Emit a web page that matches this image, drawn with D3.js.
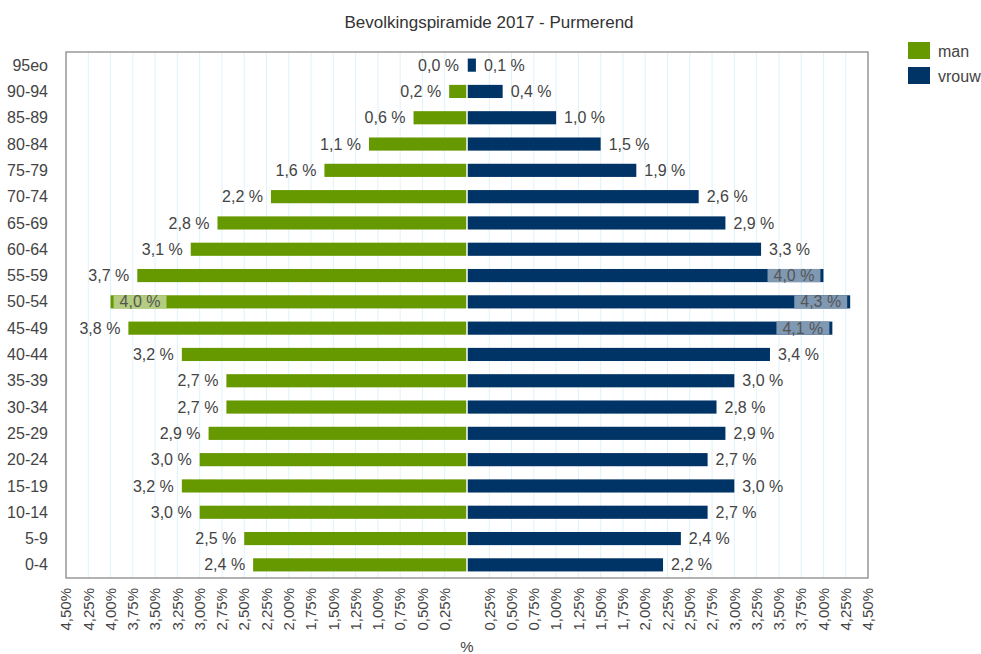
<!DOCTYPE html>
<html>
<head>
<meta charset="utf-8">
<script src="https://cdn.jsdelivr.net/npm/d3@7/dist/d3.min.js"></script>
<style>
	body { margin: 0; background: #fff; }
	svg text { font-family: "Liberation Sans", Arial, sans-serif; fill: #444; }
</style>
</head>
<body>
<svg id="chart" width="981" height="654"></svg>
<script>
// age groups, top to bottom
var ageGroups = ['95eo', '90-94', '85-89', '80-84', '75-79', '70-74', '65-69', '60-64', '55-59', '50-54',
	'45-49', '40-44', '35-39', '30-34', '25-29', '20-24', '15-19', '10-14', '5-9', '0-4'];

// percentage of total population
var manValues = [0.0, 0.2, 0.6, 1.1, 1.6, 2.2, 2.8, 3.1, 3.7, 4.0,
	3.8, 3.2, 2.7, 2.7, 2.9, 3.0, 3.2, 3.0, 2.5, 2.4];
var vrouwValues = [0.1, 0.4, 1.0, 1.5, 1.9, 2.6, 2.9, 3.3, 4.0, 4.3,
	4.1, 3.4, 3.0, 2.8, 2.9, 2.7, 3.0, 2.7, 2.4, 2.2];

var seriesNames = ['man', 'vrouw'];
var seriesColors = ['#669900', '#003366'];

// axis ticks every 0.25 %, both sides
var tickValues = d3.range(-18, 19).filter((i) => i !== 0).map((i) => i * 0.25);

var title = 'Bevolkingspiramide 2017 - Purmerend';

var svg = d3.select('#chart');
var plot = { left: 66, right: 868, top: 52, bottom: 578 };

var x = d3.scaleLinear().domain([-4.5, 4.5]).range([plot.left, plot.right]);
var y = d3.scaleBand().domain(ageGroups).range([plot.top, plot.bottom]).paddingInner(0.5).paddingOuter(0.25);

var fmt = (v) => d3.format('.1f')(v).replace('.', ',') + ' %';
var fmtTick = (v) => d3.format('.2f')(Math.abs(v)).replace('.', ',') + '%';

// title
svg.append('text')
	.attr('x', 489).attr('y', 28)
	.attr('text-anchor', 'middle')
	.style('font-size', '17px')
	.style('fill', '#333')
	.text(title);

// grid
svg.append('g').selectAll('line').data(tickValues)
	.enter().append('line')
	.attr('x1', (d) => x(d)).attr('x2', (d) => x(d))
	.attr('y1', plot.top).attr('y2', plot.bottom)
	.attr('stroke', '#dff2fb').attr('stroke-width', 1);

// rows: man left, vrouw right
var rows = ageGroups.map((age, i) => ({ age, man: manValues[i], vrouw: vrouwValues[i] }));
var bars = [];
rows.forEach((r) => {
	bars.push({ age: r.age, side: -1, value: r.man, color: seriesColors[0], tint: '#b3cc80' });
	bars.push({ age: r.age, side: 1, value: r.vrouw, color: seriesColors[1], tint: '#8099b3' });
});

svg.append('g').selectAll('rect').data(bars)
	.enter().append('rect')
	.attr('x', (d) => d.side < 0 ? x(-d.value) : x(0))
	.attr('width', (d) => Math.abs(x(d.value) - x(0)))
	.attr('y', (d) => y(d.age))
	.attr('height', y.bandwidth())
	.attr('fill', (d) => d.color);

// white divider at zero
svg.append('line')
	.attr('x1', x(0)).attr('x2', x(0))
	.attr('y1', plot.top).attr('y2', plot.bottom)
	.attr('stroke', '#fff').attr('stroke-width', 1.5);

// value labels: outside the bar, or inside with a tinted box when it would leave the plot
var gap = 8;
var labels = svg.append('g');
bars.forEach((d) => {
	var end = x(d.side * d.value);
	var cy = y(d.age) + y.bandwidth() / 2;
	var t = labels.append('text')
		.attr('y', cy).attr('dy', '0.35em')
		.style('font-size', '16px')
		.text(fmt(d.value));
	var w = t.node().getComputedTextLength();
	var outside = d.side < 0 ? end - gap - w >= plot.left : end + gap + w <= plot.right;
	if (outside)
	{
		t.attr('x', d.side < 0 ? end - gap : end + gap)
			.attr('text-anchor', d.side < 0 ? 'end' : 'start');
	}
	else
	{
		var boxW = w + 12;
		var bx = d.side < 0 ? end + 3 : end - 3 - boxW;
		labels.insert('rect', () => t.node())
			.attr('x', bx).attr('y', y(d.age))
			.attr('width', boxW).attr('height', y.bandwidth())
			.attr('fill', d.tint);
		t.attr('x', bx + 6).attr('text-anchor', 'start').style('fill', '#555');
	}
});

// frame
svg.append('rect')
	.attr('x', plot.left).attr('y', plot.top)
	.attr('width', plot.right - plot.left).attr('height', plot.bottom - plot.top)
	.attr('fill', 'none').attr('stroke', '#999').attr('stroke-width', 1.5);

// category labels
svg.append('g').selectAll('text').data(ageGroups)
	.enter().append('text')
	.attr('x', 48)
	.attr('y', (d) => y(d) + y.bandwidth() / 2)
	.attr('dy', '0.35em')
	.attr('text-anchor', 'end')
	.style('font-size', '16px')
	.text((d) => d);

// x tick labels, rotated
svg.append('g').selectAll('text').data(tickValues)
	.enter().append('text')
	.attr('transform', (d) => `translate(${x(d)},${plot.bottom + 10}) rotate(-90)`)
	.attr('dy', '0.35em')
	.attr('text-anchor', 'end')
	.style('font-size', '15px')
	.text(fmtTick);

svg.append('text')
	.attr('x', x(0)).attr('y', 652)
	.attr('text-anchor', 'middle')
	.style('font-size', '15px')
	.text('%');

// legend
var legend = svg.append('g').selectAll('g').data(seriesNames)
	.enter().append('g')
	.attr('transform', (d, i) => `translate(908,${42 + i * 25})`);
legend.append('rect')
	.attr('width', 22).attr('height', 17)
	.attr('fill', (d, i) => seriesColors[i]);
legend.append('text')
	.attr('x', 30).attr('y', 9).attr('dy', '0.35em')
	.style('font-size', '16px')
	.text((d) => d);
</script>
</body>
</html>
